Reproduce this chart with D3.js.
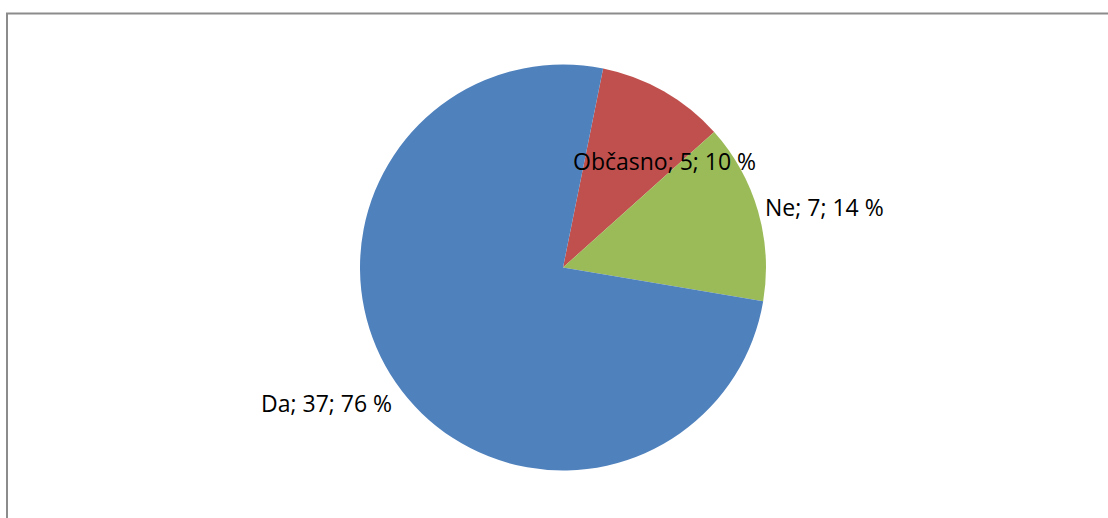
<!DOCTYPE html>
<html>
<head>
<meta charset="utf-8">
<script src="https://cdn.jsdelivr.net/npm/d3@7"></script>
<style>
  html, body { margin: 0; padding: 0; background: #fff; }
  svg { display: block; }
</style>
</head>
<body>
<svg id="chart" width="1108" height="518"></svg>
<script>
// Answers in clockwise order starting from the top slice boundary
const categories = ["Občasno", "Ne", "Da"];
const counts = [5, 7, 37];
const percents = [10, 14, 76];
const colors = ["#C0504D", "#9BBB59", "#4F81BD"];

// label anchor points (left edge, baseline) for each answer
const labelAnchors = [[573, 170], [765, 216], [261, 412]];

const svg = d3.select("#chart");
const W = 1108, H = 518;

// chart frame
svg.append("rect")
  .attr("x", 7).attr("y", 13.5)
  .attr("width", W + 10).attr("height", H + 10)
  .attr("fill", "#fff")
  .attr("stroke", "#8c8c8c")
  .attr("stroke-width", 2);

const cx = 563, cy = 267.5, r = 203;
const startDeg = 11.4;

const pie = d3.pie()
  .sort(null)
  .value(d => d.count)
  .startAngle(startDeg * Math.PI / 180)
  .endAngle((startDeg + 360) * Math.PI / 180);

const data = categories.map((c, i) => ({ name: c, count: counts[i], pct: percents[i], color: colors[i] }));
const arcs = pie(data);
const arc = d3.arc().innerRadius(0).outerRadius(r);

const g = svg.append("g").attr("transform", `translate(${cx},${cy})`);
g.selectAll("path")
  .data(arcs)
  .join("path")
  .attr("d", arc)
  .attr("fill", d => d.data.color);

svg.selectAll("text.lbl")
  .data(arcs)
  .join("text")
  .attr("class", "lbl")
  .attr("x", (d, i) => labelAnchors[i][0])
  .attr("y", (d, i) => labelAnchors[i][1])
  .attr("font-family", "'Open Sans', sans-serif")
  .attr("font-size", 23)
  .attr("fill", "#000")
  .text(d => `${d.data.name}; ${d.data.count}; ${d.data.pct} %`);
</script>
</body>
</html>
